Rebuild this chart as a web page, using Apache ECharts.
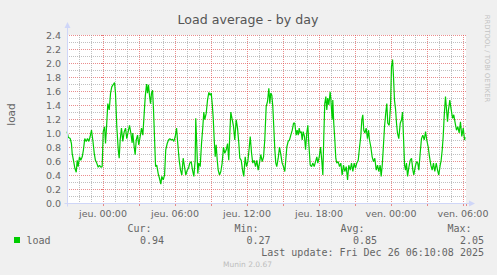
<!DOCTYPE html>
<html><head><meta charset="utf-8">
<script src="https://cdn.jsdelivr.net/npm/echarts@6/dist/echarts.min.js"></script>
<style>html,body{margin:0;padding:0;background:#f0f0f0}#c{width:497px;height:275px}</style>
</head><body><div id="c"></div><script>
// Time in hours relative to "jeu. 00:00"
const hours = [-2.99,-2.90,-2.73,-2.63,-2.57,-2.46,-2.35,-2.23,-2.15,-2.07,-1.96,-1.85,-1.73,-1.63,-1.52,-1.40,-1.29,-1.18,-1.07,-0.96,-0.85,-0.73,-0.63,-0.52,-0.40,-0.29,-0.18,-0.07,
0.02,0.13,0.21,0.29,0.40,0.52,0.63,0.73,0.85,0.96,1.04,1.15,1.27,1.35,1.43,1.54,1.65,1.77,1.88,1.98,2.10,2.21,2.32,2.43,2.48,2.60,2.68,2.77,2.88,2.98,
3.10,3.21,3.32,3.40,3.52,3.63,3.71,3.79,3.88,3.96,4.04,4.13,4.21,4.29,4.38,4.48,4.60,4.71,4.82,4.90,5.02,5.13,5.23,5.35,5.46,5.57,5.68,5.79,5.90,
6.02,6.13,6.23,6.35,6.46,6.57,6.68,6.79,6.90,7.02,7.13,7.23,7.35,7.46,7.57,7.68,7.73,7.82,7.90,7.98,8.10,8.21,8.32,8.40,8.48,8.60,8.71,8.82,8.93,
9.02,9.10,9.18,9.27,9.35,9.43,9.52,9.60,9.71,9.82,9.93,10.04,10.15,10.27,10.38,10.48,10.57,10.65,10.77,10.88,10.98,11.10,11.21,11.32,11.40,11.52,11.63,11.73,11.85,11.96,
12.07,12.18,12.27,12.38,12.48,12.60,12.71,12.82,12.93,13.04,13.15,13.27,13.38,13.48,13.60,13.71,13.82,13.90,13.98,14.07,14.15,14.23,14.32,14.40,14.48,14.60,14.71,14.82,14.93,
15.04,15.15,15.23,15.32,15.43,15.54,15.65,15.77,15.88,15.98,16.10,16.18,16.27,16.35,16.43,16.52,16.60,16.68,16.79,16.88,16.98,17.07,17.15,17.27,17.38,17.48,17.60,17.71,17.82,17.90,
18.02,18.13,18.23,18.32,18.40,18.48,18.57,18.65,18.73,18.82,18.93,18.98,19.10,19.15,19.23,19.32,19.40,19.48,19.60,19.71,19.82,19.93,20.04,20.15,20.27,20.38,20.48,20.60,20.71,20.82,20.93,
21.04,21.15,21.27,21.38,21.48,21.57,21.65,21.73,21.82,21.93,22.04,22.13,22.21,22.32,22.43,22.54,22.65,22.77,22.88,22.98,23.10,23.18,23.27,23.35,23.46,23.57,23.65,23.73,23.85,23.96,
24.04,24.13,24.21,24.29,24.38,24.46,24.54,24.65,24.77,24.88,24.96,25.04,25.13,25.21,25.29,25.38,25.48,25.60,25.71,25.82,25.90,26.02,26.13,26.23,26.32,26.43,26.54,26.65,26.77,26.88,26.98,
27.10,27.21,27.32,27.43,27.54,27.65,27.77,27.88,27.98,28.10,28.18,28.27,28.35,28.43,28.54,28.63,28.71,28.79,28.90,29.02,29.13,29.23,29.35,29.46,29.57,29.68,29.79,29.90,30.02,30.13,30.18];
const load = [1.02,0.94,0.92,0.85,0.71,0.61,0.50,0.44,0.61,0.52,0.66,0.61,0.66,0.76,0.92,0.88,0.92,0.88,0.95,1.04,0.90,0.71,0.61,0.57,0.51,0.54,0.51,0.52,
1.02,1.09,0.85,1.07,1.42,1.33,1.57,1.66,1.69,1.72,1.57,1.09,0.76,0.64,0.90,1.07,0.88,1.02,1.07,0.92,1.02,1.11,1.00,0.86,1.00,0.80,0.69,0.90,0.97,0.83,
0.95,1.07,0.97,1.19,1.52,1.70,1.57,1.69,1.53,1.42,1.57,1.61,1.33,0.95,0.52,0.54,0.42,0.35,0.27,0.38,0.33,0.40,0.76,0.85,0.90,0.92,0.90,0.91,0.88,
0.95,1.07,0.85,0.61,0.47,0.40,0.64,0.52,0.40,0.47,0.50,0.57,0.59,0.47,0.38,0.61,1.21,0.80,0.42,0.57,0.52,0.85,1.09,1.30,1.19,1.28,1.47,1.58,1.54,
1.57,1.42,1.23,0.90,0.66,0.83,0.61,0.47,0.40,0.45,0.57,0.80,0.71,0.76,0.85,0.61,1.00,1.30,1.19,1.09,0.90,1.19,1.07,0.85,0.64,0.61,0.47,0.38,0.66,0.52,
0.59,0.78,0.95,0.71,0.57,0.61,0.52,0.61,0.47,0.57,0.69,0.59,0.66,0.90,1.38,1.45,1.64,1.42,1.57,1.54,1.38,1.09,0.76,0.57,0.52,0.64,0.80,0.69,0.57,
0.52,0.45,0.61,0.80,0.88,0.90,0.97,1.04,1.14,1.14,0.97,1.04,0.97,1.07,1.00,1.02,0.90,1.02,0.95,0.76,1.00,1.11,0.85,0.54,0.52,0.57,0.52,0.59,0.66,0.57,
0.66,0.80,0.61,0.40,0.95,1.42,1.52,1.33,1.50,1.40,1.59,1.50,1.19,1.47,1.14,0.90,0.64,0.57,0.59,0.52,0.57,0.40,0.54,0.45,0.52,0.33,0.54,0.47,0.57,0.45,0.57,
0.50,0.57,0.61,0.80,0.95,1.19,1.26,1.04,1.00,1.07,0.92,1.04,0.90,0.80,0.66,0.59,0.64,0.47,0.54,0.45,0.54,0.38,0.54,0.76,1.09,1.30,1.42,1.14,1.11,1.38,
1.95,2.05,1.80,1.47,1.34,1.14,1.00,0.92,1.14,1.19,1.30,0.95,0.54,0.47,0.57,0.38,0.50,0.61,0.64,0.47,0.40,0.52,0.59,0.57,0.47,0.71,0.92,0.97,0.90,1.02,0.90,
0.80,0.66,0.54,0.47,0.57,0.45,0.57,0.47,0.40,0.54,0.61,0.76,0.95,1.23,1.52,1.33,1.16,1.33,1.47,1.33,1.21,1.26,1.14,1.04,1.09,1.00,1.16,0.95,1.07,0.90,0.94];
const xLabelHours = [0, 6, 12, 18, 24, 30];
const xLabelTexts = ['jeu. 00:00','jeu. 06:00','jeu. 12:00','jeu. 18:00','ven. 00:00','ven. 06:00'];
const statNames = ['Cur:', 'Min:', 'Avg:', 'Max:'];
const statValues = ['0.94', '0.27', '0.85', '2.05'];
const seriesName = 'load';
const titleText = 'Load average - by day';
const lastUpdate = 'Last update: Fri Dec 26 06:10:08 2025';

const xMin = -3, xMax = 30.25, yMin = 0, yMax = 2.4;
const AXIS = '#CFD6F8', MGRID = 'rgba(225,80,80,0.65)', GRID = 'rgba(150,150,150,0.6)';
const FONT = '#666666';
const SANS = '"DejaVu Sans", sans-serif', MONO = '"DejaVu Sans Mono", monospace';

const chart = echarts.init(document.getElementById('c'), null, {renderer: 'svg'});
chart.setOption({
  animation: false,
  backgroundColor: '#f0f0f0',
  grid: {left: 67, right: 31, top: 35, bottom: 72, show: true, backgroundColor: '#ffffff', borderWidth: 0},
  xAxis: {
    type: 'value', min: xMin, max: xMax, interval: 3,
    axisLine: {show: false},
    axisTick: {show: true, length: 3, lineStyle: {color: MGRID}},
    axisLabel: {color: FONT, fontFamily: SANS, fontSize: 9.5, margin: 5,
      formatter: v => { const i = xLabelHours.indexOf(Math.round(v*100)/100); return i >= 0 ? xLabelTexts[i] : ''; }},
    splitLine: {show: true, showMinLine: false, showMaxLine: false, lineStyle: {color: MGRID, width: 1, type: [1, 1]}},
    minorTick: {show: false, splitNumber: 3},
    minorSplitLine: {show: true, lineStyle: {color: GRID, width: 1, type: [1, 1]}}
  },
  yAxis: {
    type: 'value', min: yMin, max: yMax, interval: 0.2,
    axisLine: {show: false},
    axisTick: {show: true, length: 2, lineStyle: {color: MGRID}},
    axisLabel: {color: FONT, fontFamily: SANS, fontSize: 9.5, margin: 6, formatter: v => v.toFixed(1)},
    splitLine: {show: true, showMinLine: false, lineStyle: {color: MGRID, width: 1, type: [1, 1]}},
    minorTick: {show: false, splitNumber: 2},
    minorSplitLine: {show: true, lineStyle: {color: GRID, width: 1, type: [1, 1]}}
  },
  series: [{
    name: seriesName, type: 'line', showSymbol: false, symbol: 'none',
    data: hours.map((h, i) => [h, load[i]]),
    lineStyle: {color: '#00CC00', width: 1.2}, itemStyle: {color: '#00CC00'}
  }]
});

const o = chart.convertToPixel({gridIndex: 0}, [xMin, yMin]);
const t = chart.convertToPixel({gridIndex: 0}, [xMin, yMax]);
const r = chart.convertToPixel({gridIndex: 0}, [xMax, yMin]);
const ax = Math.round(o[0]) + 0.5, ay = Math.round(o[1]) + 0.5;
const colRight = [151.5, 258.5, 364.5, 471.5];
const valRight = [164, 270.5, 377, 484];
const g = [
  {type: 'line', shape: {x1: ax - 3, y1: ay, x2: r[0] + 5, y2: ay}, style: {stroke: AXIS, lineWidth: 1}, z: 10},
  {type: 'line', shape: {x1: ax, y1: ay + 3, x2: ax, y2: t[1] - 8}, style: {stroke: AXIS, lineWidth: 1}, z: 10},
  {type: 'polygon', shape: {points: [[ax - 3, t[1] - 7], [ax + 3, t[1] - 7], [ax, t[1] - 13]]}, style: {fill: AXIS}, z: 10},
  {type: 'polygon', shape: {points: [[r[0] + 3, ay - 3], [r[0] + 3, ay + 3], [r[0] + 9, ay]]}, style: {fill: AXIS}, z: 10},
  {type: 'text', x: 248, y: 19.5, style: {text: titleText, font: '12.6px ' + SANS, fill: '#555', textAlign: 'center', align: 'center', textVerticalAlign: 'middle', verticalAlign: 'middle'}},
  {type: 'text', x: 10.5, y: 114.5, rotation: Math.PI / 2, style: {text: seriesName, font: '10.5px ' + SANS, fill: FONT, textAlign: 'center', align: 'center', textVerticalAlign: 'middle', verticalAlign: 'middle'}},
  {type: 'text', x: 486.5, y: 58.5, rotation: -Math.PI / 2, style: {text: 'RRDTOOL / TOBI OETIKER', font: '6.8px ' + SANS, fill: '#c2c2c2', textAlign: 'center', align: 'center', textVerticalAlign: 'middle', verticalAlign: 'middle'}},
  {type: 'rect', shape: {x: 14, y: 237, width: 6, height: 6}, style: {fill: '#00CC00'}},
  {type: 'text', x: 26.5, y: 240, style: {text: seriesName, font: '10px ' + MONO, fill: FONT, textAlign: 'left', align: 'left', textVerticalAlign: 'middle', verticalAlign: 'middle'}},
  {type: 'text', x: 484, y: 252, style: {text: lastUpdate, font: '10px ' + MONO, fill: FONT, textAlign: 'right', align: 'right', textVerticalAlign: 'middle', verticalAlign: 'middle'}},
  {type: 'text', x: 247.5, y: 264, style: {text: 'Munin 2.0.67', font: '7.5px ' + SANS, fill: '#bdbdbd', textAlign: 'center', align: 'center', textVerticalAlign: 'middle', verticalAlign: 'middle'}}
];
statNames.forEach((n, i) => {
  g.push({type: 'text', x: colRight[i], y: 228, style: {text: n, font: '10px ' + MONO, fill: FONT, textAlign: 'right', align: 'right', textVerticalAlign: 'middle', verticalAlign: 'middle'}});
  g.push({type: 'text', x: valRight[i], y: 240, style: {text: statValues[i], font: '10px ' + MONO, fill: FONT, textAlign: 'right', align: 'right', textVerticalAlign: 'middle', verticalAlign: 'middle'}});
});
chart.setOption({graphic: g});
</script></body></html>
